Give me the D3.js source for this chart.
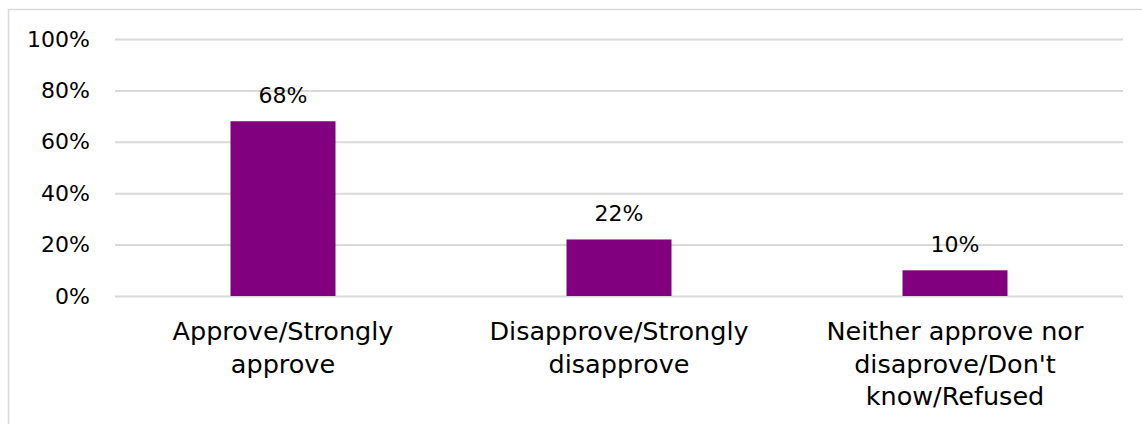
<!DOCTYPE html>
<html>
<head>
<meta charset="utf-8">
<script src="https://cdn.jsdelivr.net/npm/d3@7"></script>
<style>
  html, body { margin: 0; padding: 0; background: #fff; }
  svg { display: block; }
  text { font-family: "DejaVu Sans", sans-serif; fill: #000; }
</style>
</head>
<body>
<svg id="chart" width="1142" height="424"></svg>
<script>
const categories = [
  ["Approve/Strongly", "approve"],
  ["Disapprove/Strongly", "disapprove"],
  ["Neither approve nor", "disaprove/Don't", "know/Refused"]
];
const values = [68, 22, 10];
const yTicks = [0, 20, 40, 60, 80, 100];

const W = 1142, H = 424;
const margin = { left: 115, right: 19, top: 39, bottom: 128 };
const FONT = '"DejaVu Sans", sans-serif';
const svg = d3.select("#chart");

// outer chart border
svg.append("rect")
  .attr("x", 8.5).attr("y", 9.5)
  .attr("width", W + 10).attr("height", H + 10)
  .attr("fill", "none").attr("stroke", "#d9d9d9").attr("stroke-width", 1.5);

const x = d3.scaleBand()
  .domain(d3.range(categories.length))
  .range([margin.left, W - margin.right])
  .paddingInner(0.6875).paddingOuter(0.34375);

const y = d3.scaleLinear().domain([0, 100]).range([H - margin.bottom, margin.top]);

// gridlines + tick labels
const yAxis = d3.axisLeft(y).tickValues(yTicks)
  .tickSize(-(W - margin.right - margin.left))
  .tickFormat(d => d + "%").tickPadding(25);
const gy = svg.append("g").attr("transform", `translate(${margin.left},0)`).call(yAxis);
gy.select(".domain").remove();
gy.selectAll(".tick line").attr("stroke", "#d9d9d9").attr("stroke-width", 2);
gy.selectAll(".tick text").attr("font-size", 22).attr("dy", "0.32em")
  .attr("fill", "#000").style("font-family", FONT);

// bars
svg.append("g").selectAll("rect").data(values).join("rect")
  .attr("x", (d, i) => x(i))
  .attr("y", d => y(d))
  .attr("width", x.bandwidth())
  .attr("height", d => y(0) - y(d))
  .attr("fill", "#800080");

// value labels
svg.append("g").selectAll("text").data(values).join("text")
  .attr("x", (d, i) => x(i) + x.bandwidth() / 2)
  .attr("y", d => y(d) - 18)
  .attr("text-anchor", "middle")
  .attr("font-size", 22)
  .text(d => d + "%");

// category labels
const cg = svg.append("g");
categories.forEach((lines, i) => {
  const cx = x(i) + x.bandwidth() / 2;
  const t = cg.append("text")
    .attr("x", cx)
    .attr("y", y(0) + 44)
    .attr("text-anchor", "middle")
    .attr("font-size", 25.5);
  lines.forEach((l, j) => {
    t.append("tspan").attr("x", cx)
      .attr("dy", j === 0 ? 0 : 32.5).text(l);
  });
});
</script>
</body>
</html>
